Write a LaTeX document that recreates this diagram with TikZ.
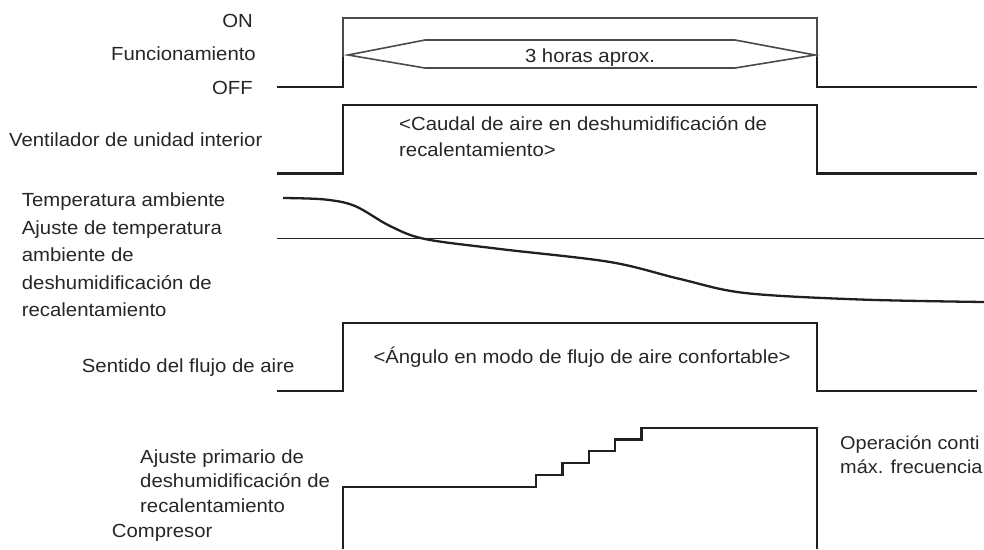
\documentclass[tikz,border=0pt]{standalone}
\usepackage{fontspec}
\setmainfont{Liberation Sans}[FakeStretch=1.07]

\definecolor{inkblack}{HTML}{231F20}
\definecolor{framegray}{HTML}{4A4A4A}
\definecolor{textgray}{HTML}{262626}

\tikzset{
    sig/.style={line width=2.3pt, draw=inkblack, line join=miter},
    onframe/.style={line width=1.6pt, draw=framegray, line join=miter},
    refline/.style={line width=1.4pt, draw=inkblack},
    txt/.style={font=\fontsize{19}{22}\selectfont, text=textgray, inner sep=0pt},
}

\begin{document}
\begin{tikzpicture}[x=1pt, y=-1pt]
    \useasboundingbox (0,0) rectangle (984,549);

    % Define the switching points of the operation signal
    \coordinate (F1) at (277,87);
    \coordinate (F2) at (343,87);
    \coordinate (F3) at (343,57);
    \coordinate (F4) at (343,18);
    \coordinate (F5) at (817,18);
    \coordinate (F6) at (817,57);
    \coordinate (F7) at (817,87);
    \coordinate (F8) at (977,87);

    % Operation: ON/OFF signal
    \draw[sig] (F1) -- (F2) -- (F3);
    \draw[onframe] (F3) -- (F4) -- (F5) -- (F6);
    \draw[sig] (F6) -- (F7) -- (F8);

    % Duration arrow (3 hours)
    \draw[onframe] (348,55) -- (425,40) -- (735,40) -- (815,55) -- (735,68) -- (425,68) -- cycle;
    \node[txt, anchor=base] (hours) at (590,62.7) {3 horas aprox.};

    % Indoor unit fan
    \draw[sig] (277,173.5) -- (343,173.5) -- (343,105) -- (817,105) -- (817,173.5) -- (977,173.5);
    \node[txt, anchor=north west, align=left, font=\fontsize{19}{26}\selectfont] (fanflow) at (399,116.7)
        {<Caudal de aire en deshumidificación de\\recalentamiento>};

    % Room temperature and set temperature
    \draw[refline] (277,238.3) -- (984,238.3);
    \draw[sig, line cap=butt] plot[smooth, tension=0.55] coordinates {
        (283,198) (325,199.5) (355,206) (390,226) (425,239) (500,249)
        (610,262) (680,279) (745,293) (860,299.5) (984,302)};

    % Airflow direction
    \draw[sig] (277,391) -- (343,391) -- (343,323.3) -- (817,323.3) -- (817,391) -- (977,391);
    \node[txt, anchor=base west] (angle) at (373.3,363.3) {<Ángulo en modo de flujo de aire confortable>};

    % Compressor with stepwise frequency rise
    \draw[sig] (343,549) -- (343,486.7) -- (536,486.7) -- (536,474.9) -- (562.4,474.9)
        -- (562.4,463.1) -- (588.8,463.1) -- (588.8,451.3) -- (615.2,451.3)
        -- (615.2,439.5) -- (641.6,439.5) -- (641.6,427.7) -- (817,427.7) -- (817,549);
    \node[txt, anchor=north west, align=left, font=\fontsize{18.6}{24}\selectfont] (maxfreq) at (840,435.5)
        {Operación conti\\máx. frecuencia};

    % Place the labels of each row
    \node[txt, anchor=base east] (on) at (253,27.3) {ON};
    \node[txt, anchor=base east] (operation) at (256,60) {Funcionamiento};
    \node[txt, anchor=base east] (off) at (253,94.3) {OFF};
    \node[txt, anchor=base west] (fan) at (9,146.7) {Ventilador de unidad interior};
    \node[txt, anchor=base west] (roomtemp) at (21.7,206.7) {Temperatura ambiente};
    \node[txt, anchor=north west, align=left, font=\fontsize{19}{27.5}\selectfont] (settemp) at (21.7,220.4)
        {Ajuste de temperatura\\ambiente de\\deshumidificación de\\recalentamiento};
    \node[txt, anchor=base west] (airdir) at (81.7,372.7) {Sentido del flujo de aire};
    \node[txt, anchor=north west, align=left, font=\fontsize{19}{24.2}\selectfont] (primary) at (140,449.7)
        {Ajuste primario de\\deshumidificación de\\recalentamiento};
    \node[txt, anchor=base west] (comp) at (111.7,537.7) {Compresor};
\end{tikzpicture}
\end{document}
